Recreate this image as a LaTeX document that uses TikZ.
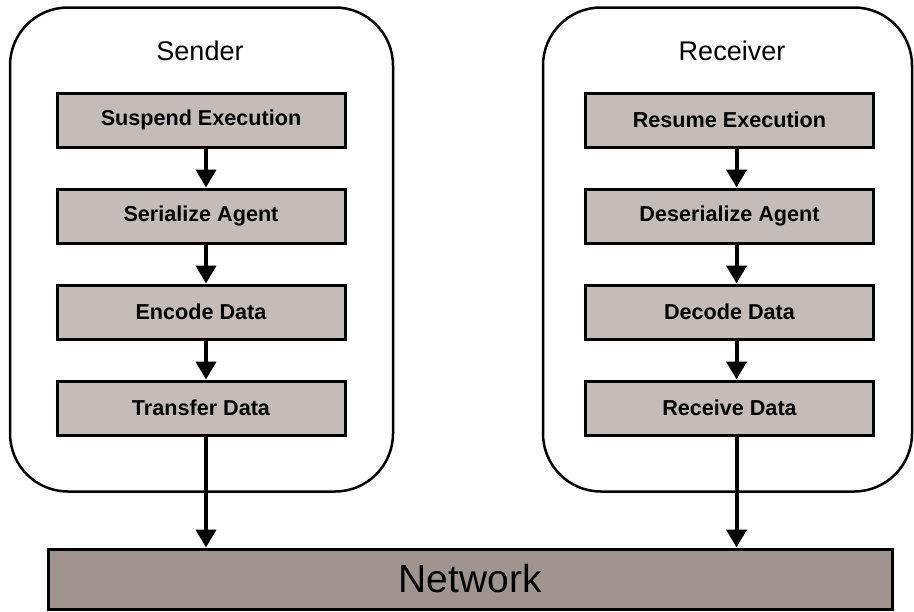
\documentclass[tikz,border=0pt]{standalone}
\usepackage{fontspec}
\setmainfont{Liberation Sans}
\usepackage[dvipsnames]{xcolor}
\usetikzlibrary{arrows.meta}
\usetikzlibrary{positioning}
\usetikzlibrary{calc}
\definecolor{stepfill}{HTML}{C4BCB9}
\definecolor{netfill}{HTML}{A09490}

\begin{document}
\begin{tikzpicture}[x=0.5pt, y=-0.5pt,
		host/.style={draw, line width=1.25pt, rounded corners=29pt, minimum width=#1, minimum height=242pt, inner sep=0pt},
		stepbox/.style={draw, line width=1.5pt, fill=stepfill, minimum width=144pt, minimum height=27pt, inner sep=0pt, font=\fontsize{10.8pt}{12pt}\selectfont\bfseries},
		flow/.style={-{Triangle[length=9pt, width=10pt]}, line width=2pt}]
	\useasboundingbox (0,0) rectangle (914,611);
	% draw hosts
	\node[host=191.5pt] (sender) at (201.5,249.5) {};
	\node[host=184.5pt] (receiver) at (727.5,249.5) {};
	\node[anchor=base, font=\fontsize{13.5pt}{15pt}\selectfont] (sendlbl) at (200,60) {Sender};
	\node[anchor=base, font=\fontsize{13.5pt}{15pt}\selectfont] (recvlbl) at (732,60) {Receiver};
	% sender steps
	\node[stepbox] (s1) at (201,120) {Suspend Execution};
	\node[stepbox, below=19.5pt of s1] (s2) {Serialize Agent};
	\node[stepbox, below=19.5pt of s2] (s3) {Encode Data};
	\node[stepbox, below=19.5pt of s3] (s4) {Transfer Data};
	% receiver steps
	\node[stepbox] (r1) at (729.5,120) {Resume Execution};
	\node[stepbox, below=19.5pt of r1] (r2) {Deserialize Agent};
	\node[stepbox, below=19.5pt of r2] (r3) {Decode Data};
	\node[stepbox, below=19.5pt of r3] (r4) {Receive Data};
	% network
	\node[draw, line width=1.5pt, fill=netfill, minimum width=422pt, minimum height=30pt, inner sep=0pt, font=\fontsize{19.5pt}{22pt}\selectfont] (net) at (470,579) {Network};
	% add arrows
	\foreach \a/\b in {s1/s2, s2/s3, s3/s4}
		\draw[flow] ([xshift=2.5pt]\a.south) -- ([xshift=2.5pt]\b.north);
	\foreach \a/\b in {r1/r2, r2/r3, r3/r4}
		\draw[flow] ([xshift=3.5pt]\a.south) -- ([xshift=3.5pt]\b.north);
	\draw[flow] ([xshift=2.5pt]s4.south) -- ([xshift=2.5pt]s4.south |- net.north);
	\draw[flow] ([xshift=3.5pt]r4.south) -- ([xshift=3.5pt]r4.south |- net.north);
\end{tikzpicture}
\end{document}
